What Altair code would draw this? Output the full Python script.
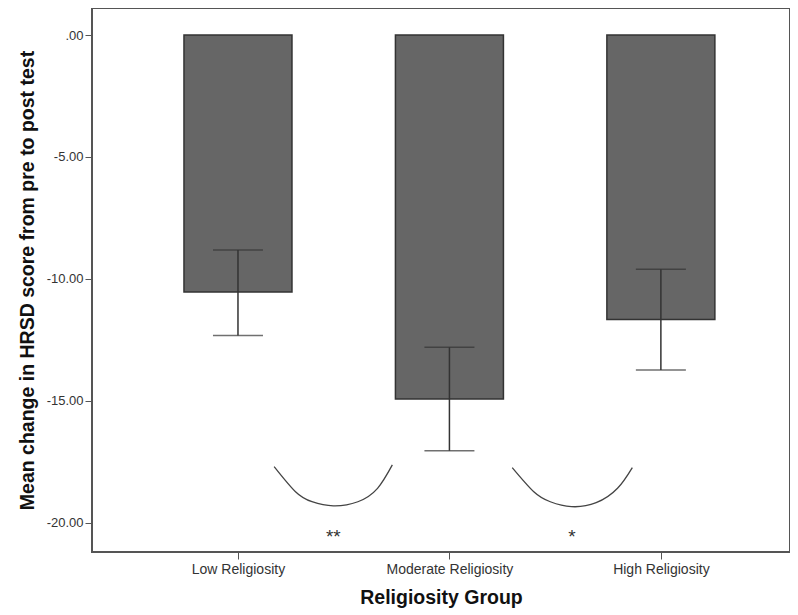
import json
import altair as alt
import pandas as pd

# ---- data ----
categories = ["Low Religiosity", "Moderate Religiosity", "High Religiosity"]
cat_index = [0, 1, 2]
means = [-10.53, -14.92, -11.66]
ci_upper = [-8.81, -12.80, -9.60]
ci_lower = [-12.32, -17.04, -13.73]

y_ticks = [0, -5, -10, -15, -20]

# significance brackets (curves), in category-index / value units
arc1_x = [0.171, 0.272, 0.350, 0.451, 0.567, 0.660, 0.730]
arc1_y = [-17.69, -18.72, -19.13, -19.30, -19.13, -18.58, -17.62]
arc2_x = [1.297, 1.399, 1.477, 1.577, 1.694, 1.795, 1.865]
arc2_y = [-17.73, -18.72, -19.13, -19.33, -19.17, -18.58, -17.73]

star_x = [0.451, 1.580]
star_y = [-20.41, -20.41]
star_text = ["**", "*"]

# ---- tables ----
bars = pd.DataFrame({"idx": cat_index, "group": categories, "mean": means,
                     "hi": ci_upper, "lo": ci_lower})
arcs = pd.DataFrame({
    "idx": arc1_x + arc2_x,
    "val": arc1_y + arc2_y,
    "arc": ["a"] * len(arc1_x) + ["b"] * len(arc2_x),
    "order": list(range(len(arc1_x))) + list(range(len(arc2_x))),
})
stars = pd.DataFrame({"idx": star_x, "val": star_y, "txt": star_text})

FONT = "Liberation Sans"
xscale = alt.Scale(domain=[-0.6667, 2.587], nice=False, zero=False)
yscale = alt.Scale(domain=[-21.19, 1.107], nice=False, zero=False)

label_expr = json.dumps(categories) + "[datum.value]"
xaxis = alt.Axis(values=cat_index, labelExpr=label_expr, title="Religiosity Group",
                 grid=False, domain=False, tickSize=7, tickColor="#555",
                 labelFontSize=14, labelPadding=3, titleFontSize=19.5,
                 titleFontWeight="bold", titlePadding=12)
yaxis = alt.Axis(values=y_ticks,
                 labelExpr="replace(datum.value == 0 ? '.00' : format(datum.value, '.2f'), '\u2212', '-')",
                 title="Mean change in HRSD score from pre to post test",
                 grid=False, domain=False, tickSize=7, tickColor="#555",
                 labelFontSize=13, labelPadding=2, titleFontSize=19.5,
                 titleFontWeight="bold", titlePadding=9)

X = alt.X("idx:Q", scale=xscale, axis=xaxis)

bar_layer = alt.Chart(bars).mark_bar(size=108, color="#666666", stroke="#333333",
                                     strokeWidth=1.5).encode(
    x=X,
    y=alt.Y("mean:Q", scale=yscale, axis=yaxis),
    y2=alt.datum(0),
)

err_rule = alt.Chart(bars).mark_rule(color="#333333", strokeWidth=1.5).encode(
    x=X, y=alt.Y("hi:Q", scale=yscale), y2="lo:Q")

cap_hi = alt.Chart(bars).mark_tick(orient="horizontal", size=50, thickness=1.5,
                                   color="#333333").encode(
    x=X, y=alt.Y("hi:Q", scale=yscale))
cap_lo = alt.Chart(bars).mark_tick(orient="horizontal", size=50, thickness=1.5,
                                   color="#333333").encode(
    x=X, y=alt.Y("lo:Q", scale=yscale))

arc_layer = alt.Chart(arcs).mark_line(color="#444444", strokeWidth=1.3,
                                      interpolate="natural").encode(
    x=X, y=alt.Y("val:Q", scale=yscale), detail="arc:N", order="order:Q")

star_layer = alt.Chart(stars).mark_text(font=FONT, fontSize=19, color="#333333",
                                        baseline="alphabetic", dy=10).encode(
    x=X, y=alt.Y("val:Q", scale=yscale), text="txt:N")

chart = alt.layer(bar_layer, err_rule, cap_hi, cap_lo, arc_layer, star_layer).properties(
    width=698, height=544,
    autosize=alt.AutoSizeParams(type="none"),
    padding={"left": 84, "top": 0, "right": 0, "bottom": 60},
).configure_axis(
    labelFont=FONT, titleFont=FONT, labelColor="#333333", titleColor="#111111",
).configure_view(stroke="#555555", strokeWidth=2)

chart.save("out.html", embed_options={"renderer": "svg", "actions": False})
